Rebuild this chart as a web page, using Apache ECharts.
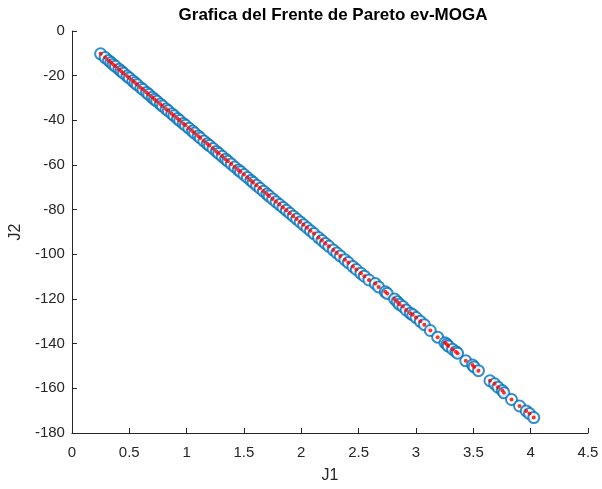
<!DOCTYPE html>
<html>
<head>
<meta charset="utf-8">
<script src="https://cdn.jsdelivr.net/npm/echarts@6/dist/echarts.min.js"></script>
<style>
html,body{margin:0;padding:0;background:#fff;}
#chart{width:602px;height:489px;}
</style>
</head>
<body>
<div id="chart"></div>
<script>
var J1 = [0.25,0.29,0.32,0.34,0.36,0.38,0.41,0.43,0.45,0.48,0.50,0.53,0.55,0.57,0.60,0.62,0.65,0.67,0.70,0.72,
  0.74,0.77,0.79,0.82,0.84,0.87,0.89,0.92,0.94,0.97,0.99,1.02,1.05,1.07,1.10,1.12,1.15,1.18,1.20,1.23,
  1.26,1.28,1.31,1.34,1.36,1.39,1.42,1.45,1.47,1.50,1.53,1.56,1.58,1.61,1.64,1.67,1.70,1.72,1.75,1.78,
  1.81,1.84,1.87,1.90,1.93,1.96,1.99,2.02,2.05,2.08,2.11,2.15,2.18,2.21,2.24,2.28,2.31,2.34,2.38,2.41,
  2.45,2.48,2.52,2.55,2.59,2.645,2.674,2.732,2.749,2.813,2.836,2.856,2.886,2.914,2.951,2.972,3.001,3.038,3.073,3.125,
  3.189,3.252,3.270,3.281,3.319,3.348,3.363,3.434,3.493,3.507,3.545,3.645,3.686,3.715,3.753,3.767,3.833,3.903,3.961,3.990,4.027];
var J2 = [-10.2,-11.9,-13.2,-14.1,-15.0,-15.8,-17.1,-18.0,-18.9,-20.2,-21.0,-22.3,-23.2,-24.1,-25.4,-26.2,-27.5,-28.4,-29.7,-30.6,
  -31.4,-32.7,-33.6,-34.9,-35.7,-37.0,-37.9,-39.2,-40.1,-41.4,-42.2,-43.5,-44.8,-45.7,-47.0,-47.9,-49.2,-50.5,-51.3,-52.6,
  -53.9,-54.8,-56.1,-57.4,-58.3,-59.6,-60.9,-62.2,-63.0,-64.3,-65.6,-66.9,-67.8,-69.1,-70.4,-71.7,-73.0,-73.9,-75.2,-76.5,
  -77.7,-79.0,-80.3,-81.6,-82.9,-84.2,-85.5,-86.8,-88.1,-89.4,-90.7,-92.5,-93.8,-95.1,-96.4,-98.1,-99.4,-100.7,-102.4,-103.7,
  -105.5,-106.8,-108.5,-109.8,-111.5,-113.1,-114.6,-116.8,-117.5,-120.0,-121.2,-122.4,-123.4,-124.9,-126.4,-127.1,-128.3,-130.0,-131.5,-134.1,
  -137.1,-139.6,-140.3,-141.1,-142.5,-143.6,-144.3,-147.7,-149.6,-150.4,-152.1,-156.6,-158.0,-159.5,-161.0,-162.0,-165.0,-167.9,-170.1,-171.3,-173.1];
var xTicks = [0,0.5,1,1.5,2,2.5,3,3.5,4,4.5];
var yTicks = [-180,-160,-140,-120,-100,-80,-60,-40,-20,0];

var pts = J1.map(function(x,i){return [x, J2[i]];});
var txt = '#262626';
var font = 'Arial, "Liberation Sans", Helvetica, sans-serif';
var chart = echarts.init(document.getElementById('chart'), null, {renderer:'canvas'});
chart.setOption({
  animation:false,
  backgroundColor:'#ffffff',
  title:{
    text:'Grafica del Frente de Pareto ev-MOGA',
    left:328, top:2, textAlign:'center',
    textStyle:{fontFamily:font, fontSize:17, fontWeight:'bold', color:'#000'}
  },
  grid:{left:68, right:14, top:31, bottom:46, containLabel:false},
  xAxis:{
    type:'value', min:xTicks[0], max:xTicks[xTicks.length-1], interval:0.5,
    name:'J1', nameLocation:'middle', nameGap:35,
    nameTextStyle:{fontFamily:font, fontSize:16, color:txt},
    axisLine:{onZero:false, lineStyle:{color:txt, width:1}},
    axisTick:{inside:true, length:5, lineStyle:{color:txt}},
    axisLabel:{fontFamily:font, fontSize:15, color:txt, margin:12},
    splitLine:{show:false}
  },
  yAxis:{
    type:'value', min:yTicks[0], max:yTicks[yTicks.length-1], interval:20,
    name:'J2', nameLocation:'middle', nameGap:43, nameRotate:90,
    nameTextStyle:{fontFamily:font, fontSize:16, color:txt},
    axisLine:{show:true, onZero:false, lineStyle:{color:txt, width:1}},
    axisTick:{show:true, inside:true, length:5, lineStyle:{color:txt}},
    axisLabel:{fontFamily:font, fontSize:15, color:txt, margin:7},
    splitLine:{show:false}
  },
  series:[
    {type:'scatter', data:pts, symbol:'emptyCircle', symbolSize:11,
     itemStyle:{color:'#0072BD', borderColor:'#0072BD', borderWidth:0.9}, z:2},
    {type:'scatter', data:pts, symbol:'circle', symbolSize:4,
     itemStyle:{color:'#FF0000'}, z:3}
  ]
});
</script>
</body>
</html>
